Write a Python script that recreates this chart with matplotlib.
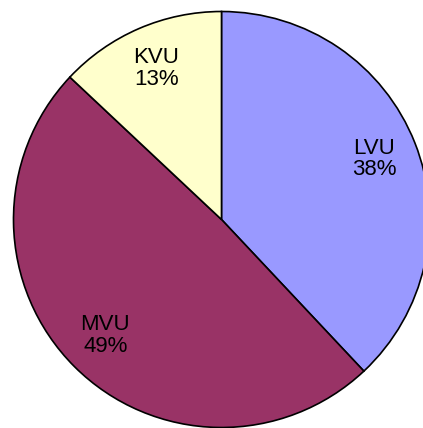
import matplotlib
matplotlib.use("Agg")
import matplotlib.pyplot as plt

categories = ["LVU", "MVU", "KVU"]
values = [38, 49, 13]
colors = ["#9999FF", "#993366", "#FFFFCC"]

W, H = 423, 428
fig = plt.figure(figsize=(W / 100, H / 100), dpi=100)
cx, cy, r = 221.5, 219.5, 208
ax = fig.add_axes([(cx - r) / W, (H - cy - r) / H, 2 * r / W, 2 * r / H])

it = iter(categories)
def fmt(p):
    return f"{next(it)}\n{p:.0f}%"

wedges, texts = ax.pie(values, colors=colors, startangle=90, counterclock=False,
                       autopct=fmt, pctdistance=0.79, radius=1,
                       wedgeprops=dict(edgecolor="black", linewidth=1.2),
                       textprops=dict(fontsize=16, family="Liberation Sans",
                                      color="black", linespacing=1.05))[:2]
for w in wedges:
    w.set_clip_on(False)
ax.set_xlim(-1, 1)
ax.set_ylim(-1, 1)
ax.set_aspect("equal")
ax.axis("off")
fig.savefig("out.png", dpi=100)
